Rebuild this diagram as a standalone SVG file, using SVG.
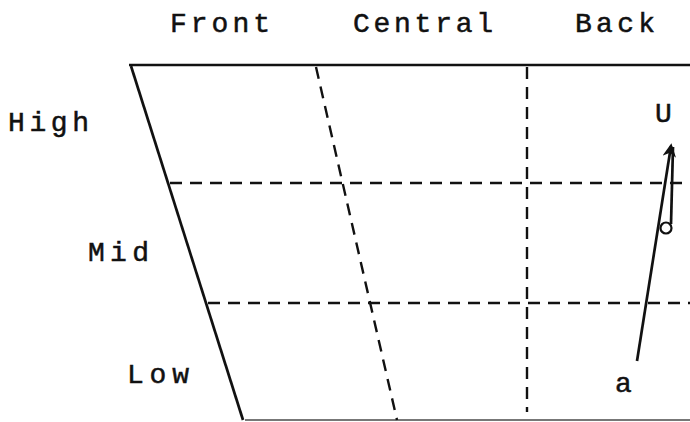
<svg xmlns="http://www.w3.org/2000/svg" width="690" height="422" viewBox="0 0 690 422">
<style>
text{font-family:"Liberation Mono","Courier New",monospace;font-size:28px;fill:#111;stroke:#111;stroke-width:0.5}
.solid{stroke:#111;stroke-width:2.7;fill:none}
.dash{stroke:#111;stroke-width:2.4;fill:none;stroke-dasharray:12 8}
</style>
<defs>
<marker id="ah" viewBox="0 0 10 10" refX="8" refY="5" markerWidth="5" markerHeight="5" orient="auto">
<path d="M0,0 L10,5 L0,10 L3,5 Z" fill="#111"/>
</marker>
</defs>
<rect width="690" height="422" fill="#fff"/>
<g id="connectors">
<line class="solid" x1="129" y1="65" x2="690" y2="65" stroke-width="3.5"/>
<line class="solid" x1="131" y1="66" x2="243" y2="420"/>
<line x1="245" y1="420" x2="690" y2="420" stroke="#777" stroke-width="2"/>
<line class="dash" x1="316" y1="67" x2="397" y2="420"/>
<line class="dash" x1="527" y1="67" x2="527" y2="412"/>
<line class="dash" x1="170" y1="183" x2="690" y2="183"/>
<line class="dash" x1="208" y1="303" x2="690" y2="303"/>
<line class="solid" x1="637" y1="361" x2="671" y2="146" marker-end="url(#ah)"/>
<line class="solid" x1="671" y1="224" x2="673" y2="147"/>
<circle cx="666" cy="228" r="5.5" fill="#fff" stroke="#111" stroke-width="2.2"/>
</g>
<g id="labels">
<text x="170" y="32" textLength="100" lengthAdjust="spacing">Front</text>
<text x="353" y="32" textLength="140" lengthAdjust="spacing">Central</text>
<text x="575" y="32" textLength="80" lengthAdjust="spacing">Back</text>
<text x="8" y="131" textLength="81" lengthAdjust="spacing">High</text>
<text x="88" y="261" textLength="61" lengthAdjust="spacing">Mid</text>
<text x="127" y="383" textLength="62" lengthAdjust="spacing">Low</text>
<text x="655" y="122">U</text>
<text x="615" y="392">a</text>
</g>
</svg>
